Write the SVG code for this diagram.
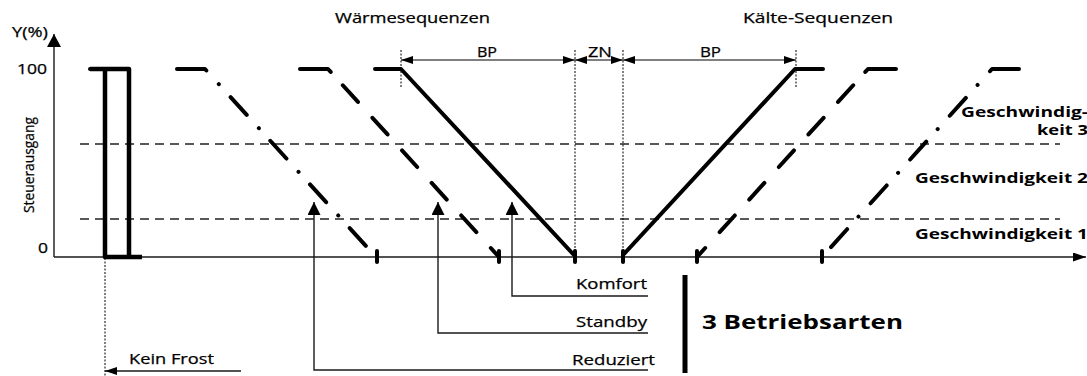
<svg xmlns="http://www.w3.org/2000/svg" width="1087" height="376" viewBox="0 0 1087 376">
<defs>
<marker id="ah" markerUnits="userSpaceOnUse" markerWidth="12" markerHeight="8" refX="12" refY="4" orient="auto-start-reverse"><path d="M0,0 L12,4 L0,8 z" fill="#000"/></marker>
<marker id="ahUp" markerUnits="userSpaceOnUse" markerWidth="13" markerHeight="13" refX="13" refY="6.5" orient="auto"><path d="M0,0 L13,6.5 L0,13 z" fill="#000"/></marker>
<marker id="ahAxisY" markerUnits="userSpaceOnUse" markerWidth="13" markerHeight="14" refX="13" refY="7" orient="auto"><path d="M0,0 L13,7 L0,14 z" fill="#000"/></marker>
<marker id="ahAxisX" markerUnits="userSpaceOnUse" markerWidth="13" markerHeight="9" refX="13" refY="4.5" orient="auto"><path d="M0,0 L13,4.5 L0,9 z" fill="#000"/></marker>
</defs>
<style>
.t{font-family:"Open Sans","Liberation Sans",sans-serif;font-size:14px;fill:#000;stroke:#000;stroke-width:0.25}
.l{font-size:15px}
.b{font-weight:bold;font-size:14.5px;stroke-width:0}
.big{font-weight:bold;font-size:20px;stroke-width:0}
.thin{stroke:#1a1a1a;stroke-width:1.4;fill:none}
.grid{stroke:#222;stroke-width:1.3;stroke-dasharray:9 6;fill:none}
.dot{stroke:#000;stroke-width:1;stroke-dasharray:2 1.5;fill:none}
.thick{stroke:#000;stroke-width:4;fill:none;stroke-linecap:round;stroke-linejoin:round}
.dash{stroke-dasharray:32 18 22.5 21.5 22.5 21.5 22.5 21.5 22.5 21.5 22.5 21.5 22.5 21.5}
.dashdot{stroke-dasharray:30 18.5 0.01 17.5 24 18 0.01 17 24 18 0.01 17 24 18 0.01 17 24 18 0.01 17}
.tick{stroke:#000;stroke-width:4;stroke-linecap:round}
</style>

<g id="axes">
<path class="thin" d="M54,257 V34" marker-end="url(#ahAxisY)"/>
<path class="thin" d="M54,257 H1086" marker-end="url(#ahAxisX)"/>
<text class="t" x="12" y="37" font-size="13.5" textLength="36" lengthAdjust="spacingAndGlyphs">Y(%)</text>
<text class="t" x="17" y="74" font-size="13.5" textLength="30" lengthAdjust="spacingAndGlyphs">100</text>
<text class="t" x="38" y="253" font-size="13.5" textLength="10" lengthAdjust="spacingAndGlyphs">0</text>
<text class="t" transform="translate(34,165) rotate(-90)" x="0" y="0" text-anchor="middle" font-size="15.5" textLength="96" lengthAdjust="spacingAndGlyphs">Steuerausgang</text>
</g>

<g id="speed-levels">
<path class="grid" d="M80,144 H1060"/>
<path class="grid" d="M80,219 H1060"/>
<text class="t b" x="961" y="117" textLength="127" lengthAdjust="spacingAndGlyphs">Geschwindig-</text>
<text class="t b" x="1037" y="135" textLength="51" lengthAdjust="spacingAndGlyphs">keit 3</text>
<text class="t b" x="915" y="183" textLength="173" lengthAdjust="spacingAndGlyphs">Geschwindigkeit 2</text>
<text class="t b" x="915" y="239" textLength="173" lengthAdjust="spacingAndGlyphs">Geschwindigkeit 1</text>
</g>

<g id="headers">
<text class="t" x="335" y="23" textLength="155" lengthAdjust="spacingAndGlyphs">Wärmesequenzen</text>
<text class="t" x="743" y="23" textLength="150" lengthAdjust="spacingAndGlyphs">Kälte-Sequenzen</text>
</g>

<g id="frost">
<path class="thick" d="M90,69 H129 V257 M105,69 V257 H142" style="stroke-width:4.5;stroke-linecap:butt" />
<path class="thick" d="M90,69 H92" />
</g>

<g id="heat-reduziert">
<path class="thick dashdot" d="M177,69 H205 L376,257"/>
<line class="tick" x1="377" y1="251" x2="377" y2="262"/>
</g>
<g id="heat-standby">
<path class="thick dash" d="M300,69 H328 L499,257"/>
<line class="tick" x1="499" y1="251" x2="499" y2="262"/>
</g>
<g id="heat-komfort">
<path class="thick" d="M375,69 H401 L574,255"/>
<line class="tick" x1="575" y1="251" x2="575" y2="262"/>
</g>
<g id="cool-komfort">
<path class="thick" d="M823,69 H795 L623,255"/>
<line class="tick" x1="623" y1="251" x2="623" y2="262"/>
</g>
<g id="cool-standby">
<path class="thick dash" d="M896,69 H868 L697,257"/>
<line class="tick" x1="697" y1="251" x2="697" y2="262"/>
</g>
<g id="cool-reduziert">
<path class="thick dashdot" d="M1019,69 H992 L822,257"/>
<line class="tick" x1="822" y1="251" x2="822" y2="262"/>
</g>

<g id="dimensions">
<path class="dot" d="M401,50 V88 M575,50 V257 M623,50 V257 M796,50 V88"/>
<path class="dot" d="M105,258 V376"/>
<text class="t" x="477" y="57" textLength="20" lengthAdjust="spacingAndGlyphs">BP</text>
<text class="t" x="588" y="57" textLength="24" lengthAdjust="spacingAndGlyphs">ZN</text>
<text class="t" x="700" y="57" textLength="21" lengthAdjust="spacingAndGlyphs">BP</text>
</g>

<g id="modes">
<text class="t l" x="576" y="289" textLength="71" lengthAdjust="spacingAndGlyphs">Komfort</text>
<text class="t l" x="576" y="327" textLength="71" lengthAdjust="spacingAndGlyphs">Standby</text>
<text class="t l" x="572" y="365" textLength="83" lengthAdjust="spacingAndGlyphs">Reduziert</text>
<text class="t l" x="129" y="364" textLength="85" lengthAdjust="spacingAndGlyphs">Kein Frost</text>
<line x1="685" y1="275" x2="685" y2="373" stroke="#000" stroke-width="5"/>
<text class="t big" x="702" y="329" textLength="201" lengthAdjust="spacingAndGlyphs">3 Betriebsarten</text>
</g>

<g id="connectors">
<path class="thin" style="stroke:#000;stroke-width:1" d="M401,60 H575" marker-start="url(#ah)" marker-end="url(#ah)"/>
<path class="thin" style="stroke:#000;stroke-width:1" d="M575,60 H623" marker-start="url(#ah)" marker-end="url(#ah)"/>
<path class="thin" style="stroke:#000;stroke-width:1" d="M623,60 H796" marker-start="url(#ah)" marker-end="url(#ah)"/>
<path class="thin" d="M648,296 H512 V202" marker-end="url(#ahUp)"/>
<path class="thin" d="M648,333 H438 V202" marker-end="url(#ahUp)"/>
<path class="thin" d="M648,370 H314 V202" marker-end="url(#ahUp)"/>
<path class="thin" d="M241,371 H105" marker-end="url(#ah)"/>
</g>
</svg>
